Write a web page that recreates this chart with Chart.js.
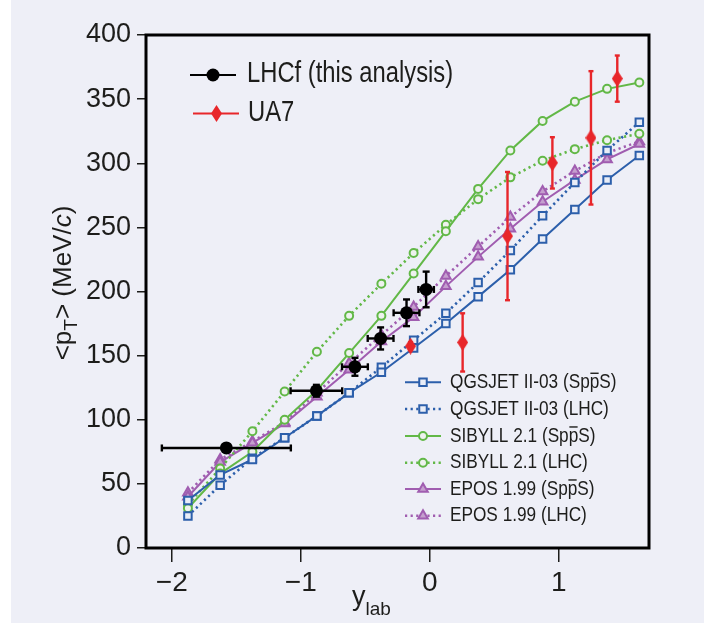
<!DOCTYPE html>
<html>
<head>
<meta charset="utf-8">
<title>Mean transverse momentum vs rapidity</title>
<script src="https://cdn.jsdelivr.net/npm/chart.js@4.4.1/dist/chart.umd.min.js"></script>
<style>
  html, body { margin: 0; padding: 0; background: #ffffff; }
  #panel { position: absolute; left: 11px; top: 0; width: 693px; height: 623px; background: #eeeff7; }
  #wrap { position: absolute; left: 0; top: 0; width: 704px; height: 630px; }
</style>
</head>
<body>
<div id="panel"></div>
<div id="wrap"><canvas id="chart" width="704" height="630"></canvas></div>
<script>
// Rapidity bins of the model predictions
const rapidity = [-1.875, -1.625, -1.375, -1.125, -0.875, -0.625, -0.375, -0.125,
                  0.125, 0.375, 0.625, 0.875, 1.125, 1.375, 1.625];

// Model predictions of <pT> (MeV/c)
const qgsjetSppS = [37, 57, 69, 86, 103, 121, 137, 156, 175, 196, 217, 241, 264, 287, 306];
const qgsjetLHC  = [25, 49, 70, 86, 103, 121, 141, 162, 183, 207, 232, 259, 285, 310, 332];
const sibyllSppS = [31, 58, 75, 100, 123, 152, 181, 214, 247, 280, 310, 333, 348, 358, 363];
const sibyllLHC  = [34, 62, 91, 122, 153, 181, 206, 230, 252, 272, 289, 302, 311, 318, 323];
const eposSppS   = [40, 67, 82, 97, 118, 139, 161, 180, 204, 227, 249, 270, 287, 303, 315];
const eposLHC    = [43, 69, 83, 98, 121, 144, 166, 188, 212, 235, 258, 278, 294, 308, 317];

// LHCf measurement
const lhcfRapidity    = [-1.577, -0.879, -0.58, -0.381, -0.18, -0.028];
const lhcfRapidityErr = [0.5, 0.2, 0.1, 0.1, 0.1, 0.06];
const lhcfPt          = [78, 122.6, 141.3, 163.4, 183.4, 201.6];
const lhcfPtErr       = [0, 4.6, 7, 8.6, 10.4, 13.9];

// UA7 measurement
const ua7Rapidity = [-0.149, 0.255, 0.603, 0.951, 1.25, 1.454];
const ua7Pt       = [157.4, 160.3, 243.2, 300.3, 319.8, 366];
const ua7PtErr    = [3, 22.7, 50, 20, 52, 18];

// Axis ticks
const xTicks = [-2, -1, 0, 1];
const yTicks = [0, 50, 100, 150, 200, 250, 300, 350, 400];

// Legend labels (U+0305 puts the bar over the antiproton p)
const modelLabels = [
  'QGSJET II-03 (Spp\u0305S)', 'QGSJET II-03 (LHC)',
  'SIBYLL 2.1 (Spp\u0305S)',   'SIBYLL 2.1 (LHC)',
  'EPOS 1.99 (Spp\u0305S)',    'EPOS 1.99 (LHC)'
];
const dataLabels = ['LHCf (this analysis)', 'UA7'];

const FONT = "'Liberation Sans', Arial, sans-serif";
const NARROW = 0.82;          // horizontal squeeze for the condensed key text
const INK = '#1d1d1b';
const BLUE = '#2c5fab', GREEN = '#62b847', PURPLE = '#a05db0', RED = '#e8262a';

const pts = (xs, ys) => xs.map((x, i) => ({ x: x, y: ys[i] }));

function diamondSprite(w, h, color) {
  const c = document.createElement('canvas');
  c.width = w; c.height = h;
  const g = c.getContext('2d');
  g.fillStyle = color;
  g.beginPath();
  g.moveTo(w / 2, 0); g.lineTo(w, h / 2); g.lineTo(w / 2, h); g.lineTo(0, h / 2);
  g.closePath(); g.fill();
  return c;
}
const diamond = diamondSprite(11, 17, RED);

function modelSet(label, values, color, style, radius, dotted, fill) {
  return {
    label: label, data: pts(rapidity, values), showLine: true, tension: 0,
    borderColor: color, borderWidth: dotted ? 2.6 : 2, borderDash: dotted ? [2.2, 3.4] : [],
    pointStyle: style, pointRadius: radius, pointBorderWidth: 2,
    pointBorderColor: color, pointBackgroundColor: fill, order: 5
  };
}

const datasets = [
  { label: dataLabels[0], data: pts(lhcfRapidity, lhcfPt), showLine: false,
    pointStyle: 'circle', pointRadius: 6.5, pointBorderWidth: 0,
    pointBackgroundColor: '#000', pointBorderColor: '#000', borderColor: '#000', borderWidth: 2,
    errors: { x: lhcfRapidityErr, y: lhcfPtErr, color: '#000', width: 2.4, cap: 3.5 }, order: 0 },
  { label: dataLabels[1], data: pts(ua7Rapidity, ua7Pt), showLine: false,
    pointStyle: diamond, pointRadius: 8, borderColor: RED, borderWidth: 2,
    pointBackgroundColor: RED, pointBorderColor: RED,
    errors: { y: ua7PtErr, color: RED, width: 2.4, cap: 2.5 }, order: 1 },
  modelSet(modelLabels[0], qgsjetSppS, BLUE, 'rect', 5.3, false, '#e9edf7'),
  modelSet(modelLabels[1], qgsjetLHC, BLUE, 'rect', 5.3, true, '#e9edf7'),
  modelSet(modelLabels[2], sibyllSppS, GREEN, 'circle', 4, false, '#eef2ee'),
  modelSet(modelLabels[3], sibyllLHC, GREEN, 'circle', 4, true, '#eef2ee'),
  modelSet(modelLabels[4], eposSppS, PURPLE, 'triangle', 5.5, false, '#c59fce'),
  modelSet(modelLabels[5], eposLHC, PURPLE, 'triangle', 5.5, true, '#c59fce')
];

// Error bars for the measured points, drawn right under their own markers
const errorBars = {
  id: 'errorBars',
  beforeDatasetDraw(chart, args) {
    const ds = chart.data.datasets[args.index];
    if (!ds.errors) return;
    const xs = chart.scales.x, ys = chart.scales.y, ctx = chart.ctx, e = ds.errors;
    ctx.save();
    ctx.strokeStyle = e.color; ctx.lineWidth = e.width; ctx.lineCap = 'butt';
    const seg = (x1, y1, x2, y2) => { ctx.beginPath(); ctx.moveTo(x1, y1); ctx.lineTo(x2, y2); ctx.stroke(); };
    ds.data.forEach((p, i) => {
      const px = xs.getPixelForValue(p.x), py = ys.getPixelForValue(p.y);
      const ex = e.x ? e.x[i] : 0, ey = e.y ? e.y[i] : 0;
      if (ex > 0) {
        const x1 = xs.getPixelForValue(p.x - ex), x2 = xs.getPixelForValue(p.x + ex);
        seg(x1, py, x2, py);
        seg(x1, py - e.cap, x1, py + e.cap);
        seg(x2, py - e.cap, x2, py + e.cap);
      }
      if (ey > 0) {
        const y1 = ys.getPixelForValue(p.y - ey), y2 = ys.getPixelForValue(p.y + ey);
        seg(px, y1, px, y2);
        seg(px - e.cap, y1, px + e.cap, y1);
        seg(px - e.cap, y2, px + e.cap, y2);
      }
    });
    ctx.restore();
  }
};

// Box round the plotting area
const frame = {
  id: 'frame',
  beforeDatasetsDraw(chart) {
    const a = chart.chartArea, ctx = chart.ctx;
    ctx.save();
    ctx.strokeStyle = '#000'; ctx.lineWidth = 3;
    ctx.strokeRect(a.left, a.top, a.right - a.left, a.bottom - a.top);
    ctx.restore();
  }
};

// Draws a condensed key label; a U+0305 after a letter becomes a bar over that letter
function drawLabel(ctx, text, x, y, size) {
  ctx.save();
  ctx.translate(x, y);
  ctx.scale(NARROW, 1);
  ctx.font = size + 'px ' + FONT;
  ctx.fillStyle = INK;
  ctx.textBaseline = 'middle';
  ctx.textAlign = 'left';
  const k = text.indexOf('\u0305');
  if (k < 0) { ctx.fillText(text, 0, 0); ctx.restore(); return; }
  const head = text.slice(0, k - 1), ch = text.slice(k - 1, k), tail = text.slice(k + 1);
  ctx.fillText(head, 0, 0);
  const x1 = ctx.measureText(head).width;
  ctx.fillText(ch, x1, 0);
  const w = ctx.measureText(ch).width;
  ctx.strokeStyle = INK; ctx.lineWidth = 1.4;
  const yb = -size * 0.43;
  ctx.beginPath(); ctx.moveTo(x1 + 0.8, yb); ctx.lineTo(x1 + w - 0.8, yb); ctx.stroke();
  ctx.fillText(tail, x1 + w, 0);
  ctx.restore();
}

function drawSample(chart, ds, x0, x1, y, markerX) {
  const ctx = chart.ctx;
  ctx.save();
  ctx.strokeStyle = ds.borderColor; ctx.lineWidth = ds.borderWidth;
  ctx.setLineDash(ds.borderDash || []);
  ctx.beginPath(); ctx.moveTo(x0, y); ctx.lineTo(x1, y); ctx.stroke();
  ctx.setLineDash([]);
  ctx.fillStyle = ds.pointBackgroundColor; ctx.strokeStyle = ds.pointBorderColor;
  ctx.lineWidth = ds.pointBorderWidth || 0;
  Chart.helpers.drawPoint(ctx, { pointStyle: ds.pointStyle, radius: ds.pointRadius, rotation: 0,
    borderWidth: ds.pointBorderWidth || 0 }, markerX, y);
  ctx.restore();
}

// The two keys: measurements top left, models bottom right
const keys = {
  id: 'keys',
  afterDraw(chart) {
    const ctx = chart.ctx, d = chart.data.datasets;
    drawSample(chart, d[0], 190, 236, 75, 213);
    drawLabel(ctx, d[0].label, 247, 74, 29);
    drawSample(chart, d[1], 193, 239, 113.5, 216.5);
    drawLabel(ctx, d[1].label, 248, 113, 29);
    const rows = [382.3, 409, 436, 462.7, 489, 515.7];
    for (let i = 0; i < 6; i++) {
      const ds = d[i + 2];
      drawSample(chart, ds, 405, 441, rows[i], 423);
      drawLabel(ctx, ds.label, 450, rows[i], 21);
    }
  }
};

// Axis titles with subscript pieces
function drawRuns(ctx, runs, x, y) {
  let cx = x;
  runs.forEach(r => {
    ctx.font = r.font;
    ctx.fillText(r.t, cx, y + (r.dy || 0));
    cx += ctx.measureText(r.t).width;
  });
  return cx - x;
}
function runsWidth(ctx, runs) {
  return runs.reduce((s, r) => { ctx.font = r.font; return s + ctx.measureText(r.t).width; }, 0);
}
const titles = {
  id: 'titles',
  afterDraw(chart) {
    const ctx = chart.ctx;
    ctx.save();
    ctx.fillStyle = INK; ctx.textBaseline = 'alphabetic'; ctx.textAlign = 'left';
    const big = '26px ' + FONT, small = '19px ' + FONT, ital = 'italic 26px ' + FONT;
    const yRuns = [{ t: '<p', font: big }, { t: 'T', font: small, dy: 6 },
                   { t: '> (MeV/', font: big }, { t: 'c', font: ital }, { t: ')', font: big }];
    ctx.translate(71, 283);
    ctx.rotate(-Math.PI / 2);
    drawRuns(ctx, yRuns, -runsWidth(ctx, yRuns) / 2, 0);
    ctx.setTransform(1, 0, 0, 1, 0, 0);
    const xRuns = [{ t: 'y', font: '27px ' + FONT }, { t: 'lab', font: small, dy: 10 }];
    drawRuns(ctx, xRuns, 352, 605);
    ctx.restore();
  }
};

const minus = v => String(v).replace('-', '\u2212');

new Chart(document.getElementById('chart'), {
  type: 'line',
  data: { datasets: datasets },
  options: {
    responsive: false, animation: false, devicePixelRatio: 1, events: [],
    layout: { padding: { left: 0, top: 35, right: 55, bottom: 0 } },
    plugins: { legend: { display: false }, tooltip: { enabled: false } },
    scales: {
      x: {
        type: 'linear', min: -2.2, max: 1.7,
        afterBuildTicks: s => { s.ticks = xTicks.map(v => ({ value: v })); },
        afterFit: s => { s.height = 82; },
        border: { display: false },
        grid: { drawOnChartArea: false, drawTicks: true, tickLength: 14, color: INK, lineWidth: 1.5 },
        ticks: { color: INK, padding: 4, font: { family: FONT, size: 28 }, callback: minus, maxRotation: 0 }
      },
      y: {
        type: 'linear', min: 0, max: 400,
        afterBuildTicks: s => { s.ticks = yTicks.map(v => ({ value: v })); },
        afterFit: s => { s.width = 146; },
        border: { display: false },
        grid: { drawOnChartArea: false, drawTicks: true, tickLength: 9, color: INK, lineWidth: 1.5 },
        ticks: { color: INK, padding: 6, font: { family: FONT, size: 27 }, callback: minus }
      }
    }
  },
  plugins: [errorBars, frame, keys, titles]
});
</script>
</body>
</html>
